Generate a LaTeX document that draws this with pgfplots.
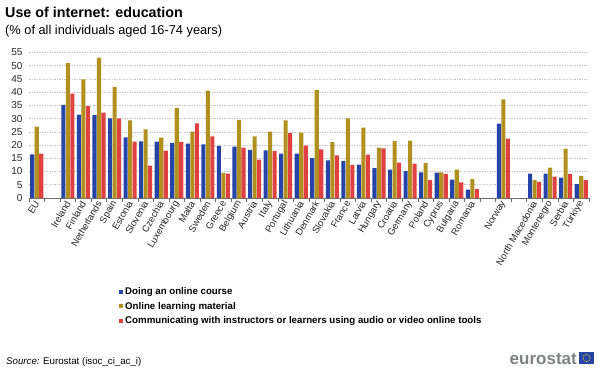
\documentclass[border=0pt]{standalone}
\usepackage{pgfplots}
\pgfplotsset{compat=1.18}
\usepackage{fontspec}
\setmainfont{Liberation Sans}
\definecolor{eblue}{HTML}{2644A7}
\definecolor{egold}{HTML}{B09120}
\definecolor{ered}{HTML}{E04040}
\definecolor{egrid}{HTML}{C8C8C8}
\definecolor{eaxis}{HTML}{6E6E6E}
\definecolor{elogo}{HTML}{7F8182}
\begin{document}
\begin{tikzpicture}[x=1pt,y=1pt]
\useasboundingbox (0,0) rectangle (600,370);
\node[anchor=base west, inner sep=0pt, font=\fontsize{14.3}{16}\selectfont\bfseries] at (5,352) {Use of internet: education};
\node[anchor=base west, inner sep=0pt, font=\fontsize{12.8}{14}\selectfont] at (5,335.5) {(\% of all individuals aged 16-74 years)};
\begin{axis}[
  at={(29pt,172pt)}, anchor=south west,
  scale only axis, width=560pt, height=145.5pt,
  xmin=-0.5, xmax=35.5, ymin=0, ymax=55,
  ybar=0.4pt, bar width=4.1pt,
  axis lines*=left,
  separate axis lines,
  x axis line style={draw=eaxis, line width=0.9pt},
  y axis line style={draw=none},
  ytick={0,5,...,55},
  ytick style={draw=none},
  ymajorgrids, major grid style={draw=egrid, dash pattern=on 1.5pt off 1pt, line width=0.6pt},
  yticklabel style={font=\fontsize{10}{12}\selectfont, text=black!85, xshift=-3pt},
  /pgf/number format/assume math mode=true,
  xtick={0,2,3,4,5,6,7,8,9,10,11,12,13,14,15,16,17,18,19,20,21,22,23,24,25,26,27,28,30,32,33,34,35},
  xticklabels={EU,Ireland,Finland,Netherlands,Spain,Estonia,Slovenia,Czechia,Luxembourg,Malta,Sweden,Greece,Belgium,Austria,Italy,Portugal,Lithuania,Denmark,Slovakia,France,Latvia,Hungary,Croatia,Germany,Poland,Cyprus,Bulgaria,Romania,Norway,North Macedonia,Montenegro,Serbia,Türkiye},
  xticklabel style={rotate=60, anchor=east, font=\fontsize{9.5}{11}\selectfont, text=black!85, inner sep=1pt, xshift=1.5pt},
  xticklabel shift=4pt,
  major x tick style={draw=none},
  minor xtick={-0.5,0.5,...,35.5},
  minor tick length=4pt,
  minor x tick style={draw=eaxis, line width=0.6pt},
  tick align=outside,
  major tick length=0pt,
  legend style={at={(0.16,-0.6)}, anchor=north west, draw=none, fill=none,
    font=\fontsize{9.7}{11}\selectfont\bfseries, row sep=2pt, inner sep=0pt,
    /tikz/every even column/.append style={column sep=2pt}},
  legend cell align=left,
  legend image code/.code={\fill[#1] (0pt,-2.2pt) rectangle (4.4pt,2.2pt);},
]
\addplot[fill=eblue, draw=none] coordinates {(0,16.5) (2,35.2) (3,31.5) (4,31.3) (5,30.1) (6,22.9) (7,21.4) (8,21.3) (9,20.8) (10,20.6) (11,20.3) (12,19.7) (13,19.4) (14,18.2) (15,18.0) (16,16.8) (17,16.8) (18,15.1) (19,14.2) (20,14.0) (21,12.6) (22,11.3) (23,10.7) (24,10.2) (25,9.7) (26,9.6) (27,6.9) (28,3.2) (30,28.1) (32,9.2) (33,9.2) (34,7.7) (35,5.2)};
\addlegendentry{Doing an online course}
\addplot[fill=egold, draw=none] coordinates {(0,27.0) (2,51.1) (3,44.8) (4,53.1) (5,42.0) (6,29.3) (7,25.9) (8,22.8) (9,34.0) (10,25.1) (11,40.6) (12,9.5) (13,29.5) (14,23.3) (15,25.1) (16,29.3) (17,24.7) (18,40.9) (19,21.1) (20,30.1) (21,26.6) (22,19.0) (23,21.6) (24,21.7) (25,13.2) (26,9.7) (27,10.7) (28,7.2) (30,37.3) (32,6.8) (33,11.5) (34,18.7) (35,8.4)};
\addlegendentry{Online learning material}
\addplot[fill=ered, draw=none] coordinates {(0,16.8) (2,39.5) (3,34.7) (4,32.3) (5,30.1) (6,21.3) (7,12.2) (8,17.9) (9,21.2) (10,28.2) (11,23.3) (12,9.2) (13,19.0) (14,14.5) (15,17.8) (16,24.5) (17,19.8) (18,18.4) (19,16.1) (20,12.5) (21,16.4) (22,18.8) (23,13.4) (24,13.0) (25,6.8) (26,9.1) (27,5.9) (28,3.4) (30,22.4) (32,6.1) (33,8.1) (34,9.1) (35,6.8)};
\addlegendentry{Communicating with instructors or learners using audio or video online tools}
\end{axis}
\node[anchor=base west, inner sep=0pt, font=\fontsize{9.7}{11}\selectfont] at (6,6) {\textit{Source:} Eurostat (isoc\_ci\_ac\_i)};
\node[anchor=base east, inner sep=0pt, font=\fontsize{17}{19}\selectfont\bfseries, text=elogo] at (577,6) {eurostat};
\fill[eblue] (579,6) rectangle (594,18);
\draw[yellow!90!orange, line width=0.6pt, dash pattern=on 0.8pt off 0.8pt] (586.5,12) circle (3.6);
\end{tikzpicture}
\end{document}
